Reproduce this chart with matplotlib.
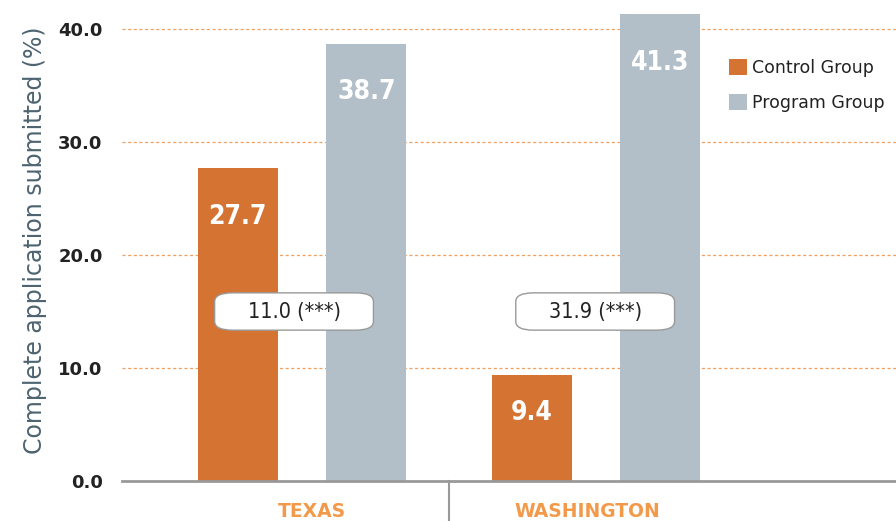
import numpy as np
import matplotlib
matplotlib.use("Agg")
import matplotlib.pyplot as plt
from matplotlib.patches import FancyBboxPatch
from matplotlib.transforms import blended_transform_factory

# dados
states = ["TEXAS", "WASHINGTON"]
control = [27.7, 9.4]
program = [38.7, 41.3]
diff_labels = ["11.0 (***)", "31.9 (***)"]
y_ticks = [0, 10, 20, 30, 40]

orange = "#d57332"
grey = "#b2bfc8"

plt.rcParams['font.family'] = ['DejaVu Sans']

fig = plt.figure(figsize=(8.96, 5.21), dpi=100)
ax = fig.add_axes([122 / 896, 40 / 521, 1 - 122 / 896, 481 / 521])

x = np.arange(len(states))
w = 0.272
off = 0.219
b1 = ax.bar(x - off, control, w, color=orange, label="Control Group", zorder=3)
b2 = ax.bar(x + off, program, w, color=grey, label="Program Group", zorder=3)

# valores dentro das barras
for bars, vals in [(b1, control), (b2, program)]:
    for r, v in zip(bars, vals):
        ypos = v - 4.3 if v > 15 else v - 3.4
        ax.text(r.get_x() + r.get_width() / 2, ypos, f"{v:.1f}", ha="center", va="center",
                color="white", fontsize=19, fontweight="bold", fontstretch="condensed", zorder=4)

# caixinhas com a diferença
bw, bh = 0.54, 3.3
box_shift = [-0.027, -0.003]
for i, lab in enumerate(diff_labels):
    cx = x[i] + box_shift[i]
    box = FancyBboxPatch((cx - bw / 2, 15.0 - bh / 2), bw, bh,
                         boxstyle="round,pad=0,rounding_size=0.06", mutation_aspect=13,
                         fc="white", ec="#999999", lw=1, zorder=5)
    ax.add_patch(box)
    ax.text(cx, 15.0, lab, ha="center", va="center", fontsize=15.5, color="#222222",
            fontstretch="condensed", zorder=6)

ax.set_xlim(-0.612, 2.02)
ax.set_ylim(0, 42.57)
ax.set_yticks(y_ticks)
ax.set_yticklabels([f"{t:.1f}" for t in y_ticks], fontsize=13, fontweight="bold", color="#222222")
ax.tick_params(axis="y", length=0, pad=14)
ax.set_xticks([])
for t in y_ticks[1:]:
    ax.axhline(t, color="#f0a060", lw=0.9, ls=(0, (2.5, 2)), zorder=1)

for s in ["top", "right", "left"]:
    ax.spines[s].set_visible(False)
ax.spines["bottom"].set_color("#999999")
ax.spines["bottom"].set_linewidth(2)
ax.spines["bottom"].set_zorder(7)

ax.set_ylabel("Complete application submitted (%)", fontsize=17, color="#4d6470", labelpad=8)

# nomes dos estados e divisor
trans = blended_transform_factory(ax.transData, ax.transAxes)
label_x = [0.035, 0.97]
for lx, s in zip(label_x, states):
    ax.text(lx, -0.063, s, transform=trans, ha="center", va="center", fontsize=13.5,
            fontweight="bold", color="#f29a4a")
ax.plot([0.5, 0.5], [0, -0.09], transform=trans, color="#999999", lw=1.5, clip_on=False)

ax.legend(loc="upper left", bbox_to_anchor=(713 / 896, 1 - 43 / 521), bbox_transform=fig.transFigure,
          frameon=False, fontsize=12.5, handlelength=1.05, handleheight=1.05, handletextpad=0.3,
          labelspacing=1.0, labelcolor="#222222")

fig.savefig("out.png", dpi=100)
